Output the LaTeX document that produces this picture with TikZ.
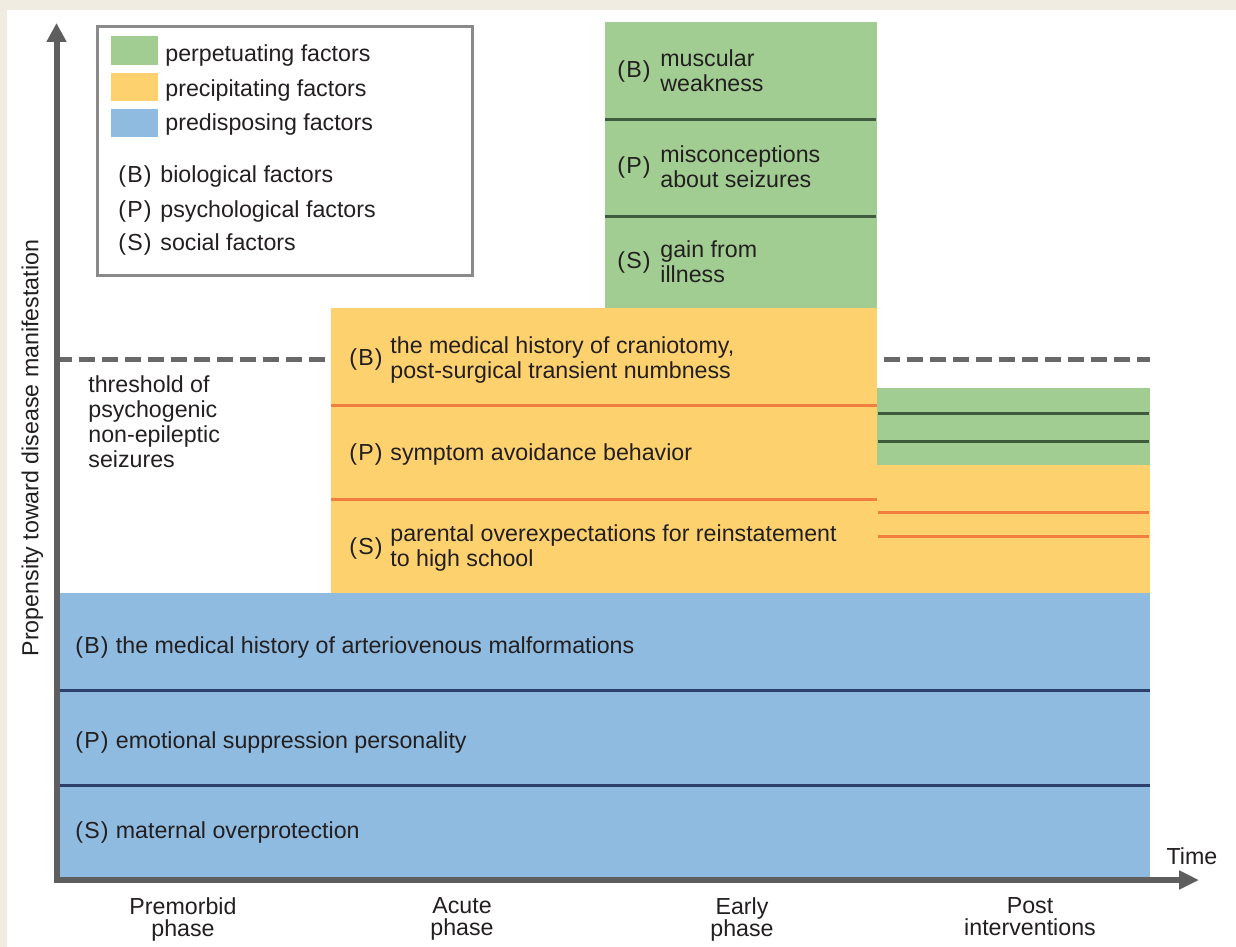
\documentclass[tikz,border=0pt]{standalone}
\usepackage{fontspec}
\setmainfont{Liberation Sans}
\usetikzlibrary{arrows.meta}

\definecolor{paper}{HTML}{F0ECE2}
\definecolor{perpgreen}{HTML}{A2CD92}
\definecolor{precyellow}{HTML}{FDD16E}
\definecolor{predblue}{HTML}{8FBBE0}
\definecolor{greenline}{HTML}{3E5B3B}
\definecolor{orangeline}{HTML}{F07E3E}
\definecolor{navyline}{HTML}{2D3F6B}
\definecolor{axisgray}{HTML}{5E5E5E}
\definecolor{dashgray}{HTML}{686868}
\definecolor{boxgray}{HTML}{8A8A8A}
\definecolor{ink}{HTML}{231F20}

\newcommand{\fac}[1]{(\kern0.6pt#1\kern0.6pt)}

\begin{document}
\begin{tikzpicture}[x=0.5pt, y=-0.5pt,
    every node/.style={inner sep=0pt, text=ink, font=\fontsize{11.6}{12.5}\selectfont},
    sepline/.style={line width=1.5pt},
    axis/.style={draw=axisgray, line width=3pt, line join=miter}]

            \fill[paper] (0,0) rectangle (1236,947);
            \fill[white] (7,10) rectangle (1236,947);
            \useasboundingbox (0,0) rectangle (1236,947);

            \draw[dashgray, line width=2.5pt, dash pattern=on 8pt off 3.5pt] (56,359) -- (1150,359);

            \fill[predblue] (58,593) rectangle (1150,877);
            \draw[navyline, sepline] (58,690) -- (1150,690);
            \draw[navyline, sepline] (58,785) -- (1150,785);

            \fill[precyellow] (331,308) rectangle (877,593);
            \draw[orangeline, sepline] (331,405) -- (877,405);
            \draw[orangeline, sepline] (331,499) -- (877,499);

            \fill[precyellow] (877,465) rectangle (1150,593);
            \draw[orangeline, sepline] (878,512) -- (1149,512);
            \draw[orangeline, sepline] (878,536) -- (1149,536);

            \fill[perpgreen] (605,22) rectangle (877,308);
            \draw[greenline, sepline] (605,120) -- (876,120);
            \draw[greenline, sepline] (605,216) -- (876,216);

            \fill[perpgreen] (877,388) rectangle (1150,465);
            \draw[greenline, sepline] (878,413) -- (1149,413);
            \draw[greenline, sepline] (878,441) -- (1149,441);

            \draw[axis, {Triangle[length=9.5pt, width=9.5pt]}-{Triangle[length=10pt, width=9pt]}]
                (56.5,23) -- (56.5,880) -- (1199,880);

            \draw[boxgray, line width=1.5pt, fill=white] (97.5,26.5) rectangle (472.5,275.5);
            \fill[perpgreen] (111,36) rectangle (158,65);
            \fill[precyellow] (111,73) rectangle (158,101);
            \fill[predblue] (111,109) rectangle (158,137);
            \node[anchor=base west] (perpkey) at (165,62) {perpetuating factors};
            \node[anchor=base west] (preckey) at (165,97) {precipitating factors};
            \node[anchor=base west] (predkey) at (165,131) {predisposing factors};
            \node[anchor=base west] (biotag) at (118,182) {\fac{B}};
            \node[anchor=base west] (biokey) at (160,182) {biological factors};
            \node[anchor=base west] (psytag) at (118,217) {\fac{P}};
            \node[anchor=base west] (psykey) at (160,217) {psychological factors};
            \node[anchor=base west] (soctag) at (118,250) {\fac{S}};
            \node[anchor=base west] (sockey) at (160,250) {social factors};

            \node[anchor=west] (perpBtag) at (617,71) {\fac{B}};
            \node[anchor=west, align=left] (perpB) at (660,71) {muscular\\weakness};
            \node[anchor=west] (perpPtag) at (617,167) {\fac{P}};
            \node[anchor=west, align=left] (perpP) at (660,167) {misconceptions\\about seizures};
            \node[anchor=west] (perpStag) at (617,262) {\fac{S}};
            \node[anchor=west, align=left] (perpS) at (660,262) {gain from\\illness};

            \node[anchor=west] (precBtag) at (349,359.5) {\fac{B}};
            \node[anchor=west, align=left] (precB) at (390,359.5) {the medical history of craniotomy,\\post-surgical transient numbness};
            \node[anchor=base west] (precPtag) at (349,460) {\fac{P}};
            \node[anchor=base west] (precP) at (390,460) {symptom avoidance behavior};
            \node[anchor=west] (precStag) at (349,548) {\fac{S}};
            \node[anchor=west, align=left] (precS) at (390,548) {parental overexpectations for reinstatement\\to high school};

            \node[anchor=base west] (predBtag) at (75,653) {\fac{B}};
            \node[anchor=base west] (predB) at (115.5,653) {the medical history of arteriovenous malformations};
            \node[anchor=base west] (predPtag) at (75,748) {\fac{P}};
            \node[anchor=base west] (predP) at (115.5,748) {emotional suppression personality};
            \node[anchor=base west] (predStag) at (75,838) {\fac{S}};
            \node[anchor=base west] (predS) at (115.5,838) {maternal overprotection};

            \node[anchor=west, align=left] (threshold) at (88,422) {threshold of\\psychogenic\\non-epileptic\\seizures};

            \node[rotate=90] (ylabel) at (32.5,448) {Propensity toward disease manifestation};
            \node (xlabel) at (1192,856) {Time};

            \node[anchor=north, align=center, font=\fontsize{11.6}{11}\selectfont] (premorbid) at (183,897) {Premorbid\\phase};
            \node[anchor=north, align=center, font=\fontsize{11.6}{11}\selectfont] (acute) at (462,897) {Acute\\phase};
            \node[anchor=north, align=center, font=\fontsize{11.6}{11}\selectfont] (early) at (742,897) {Early\\phase};
            \node[anchor=north, align=center, font=\fontsize{11.6}{11}\selectfont] (post) at (1030,897) {Post\\interventions};
        \end{tikzpicture}
\end{document}
